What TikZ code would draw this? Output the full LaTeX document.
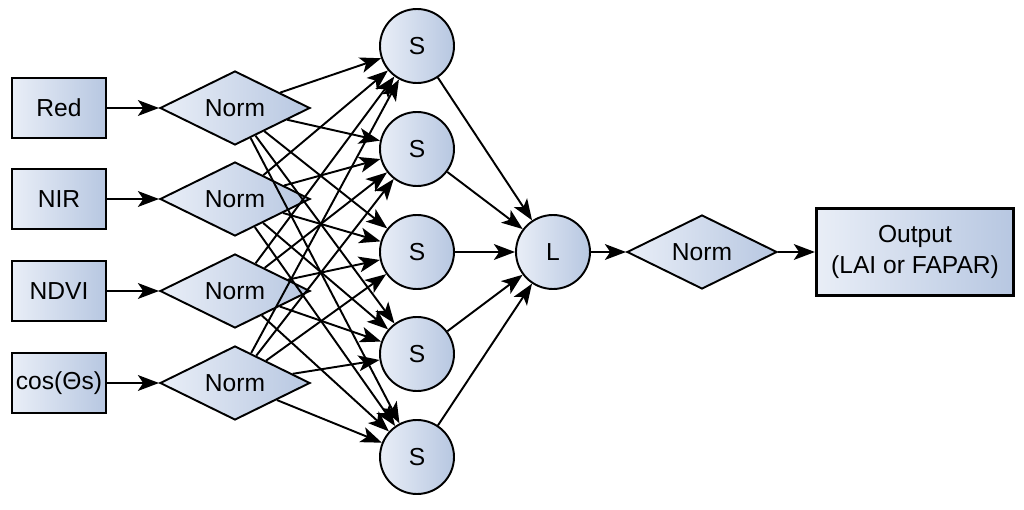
\documentclass[tikz,border=0pt]{standalone}
\usepackage{fontspec}
\setmainfont{Liberation Sans}
\usetikzlibrary{shapes.geometric,arrows.meta}

\definecolor{filllight}{HTML}{E9EEF7}
\definecolor{filldark}{HTML}{B7C7E1}

\tikzset{>={Stealth[length=12pt, width=9pt, inset=3pt]},
             every node/.style={font=\fontsize{14}{17.6}\selectfont},
             shade/.style={left color=filllight, right color=filldark},
             box/.style={draw, shade, minimum width=1.88cm, minimum height=1.2cm, inner sep=1pt},
             diam/.style={draw, shade, diamond, aspect=2, inner sep=0pt, minimum width=3.0cm, minimum height=1.48cm},
             neuron/.style={draw, shade, circle, minimum size=1.48cm, inner sep=0pt},
             outbox/.style={draw, shade, line width=1.8pt, minimum width=3.94cm, minimum height=1.74cm, align=center}}

\begin{document}
\begin{tikzpicture}[line width=1.1pt]
        \useasboundingbox (0, 0) rectangle (20.48, 10.18);

        \node[box]    at ( 1.18,  8.02) (red)    {Red};
        \node[box]    at ( 1.18,  6.20) (nir)    {NIR};
        \node[box]    at ( 1.18,  4.36) (ndvi)   {NDVI};
        \node[box]    at ( 1.18,  2.52) (cos)    {cos(Θs)};

        \node[diam]   at ( 4.70,  8.02) (nred)   {Norm};
        \node[diam]   at ( 4.70,  6.20) (nnir)   {Norm};
        \node[diam]   at ( 4.70,  4.36) (nndvi)  {Norm};
        \node[diam]   at ( 4.70,  2.52) (ncos)   {Norm};

        \node[neuron] at ( 8.34,  9.26) (sone)   {S};
        \node[neuron] at ( 8.34,  7.20) (stwo)   {S};
        \node[neuron] at ( 8.34,  5.14) (sthree) {S};
        \node[neuron] at ( 8.34,  3.10) (sfour)  {S};
        \node[neuron] at ( 8.34,  1.04) (sfive)  {S};

        \node[neuron] at (11.06,  5.14) (lin)    {L};
        \node[diam]   at (14.04,  5.14) (nout)   {Norm};
        \node[outbox] at (18.30,  5.14) (output) {Output\\(LAI or FAPAR)};

        \draw[->] (red)  -- (nred);
        \draw[->] (nir)  -- (nnir);
        \draw[->] (ndvi) -- (nndvi);
        \draw[->] (cos)  -- (ncos);

        \draw[->] (nred)  edge (sone) edge (stwo) edge (sthree) edge (sfour) edge (sfive);
        \draw[->] (nnir)  edge (sone) edge (stwo) edge (sthree) edge (sfour) edge (sfive);
        \draw[->] (nndvi) edge (sone) edge (stwo) edge (sthree) edge (sfour) edge (sfive);
        \draw[->] (ncos)  edge (sone) edge (stwo) edge (sthree) edge (sfour) edge (sfive);

        \draw[->] (sone)   -- (lin);
        \draw[->] (stwo)   -- (lin);
        \draw[->] (sthree) -- (lin);
        \draw[->] (sfour)  -- (lin);
        \draw[->] (sfive)  -- (lin);

        \draw[->] (lin)  -- (nout);
        \draw[->] (nout) -- (output);
    \end{tikzpicture}
\end{document}
